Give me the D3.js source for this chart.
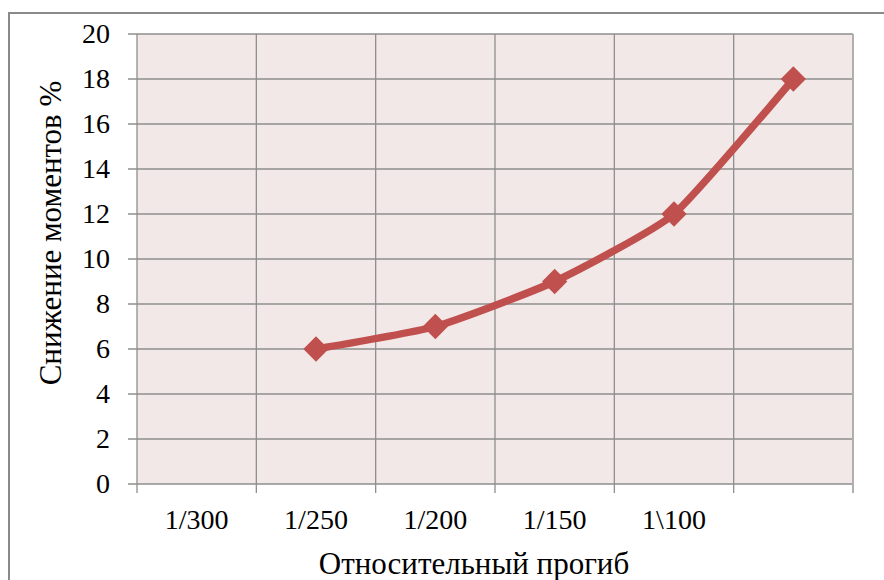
<!DOCTYPE html>
<html><head><meta charset="utf-8">
<script src="https://cdn.jsdelivr.net/npm/d3@7/dist/d3.min.js"></script>
<style>body{margin:0;background:#fff}svg{display:block}</style>
</head><body><svg id="c" width="884" height="580"></svg>
<script>
const categories = ["1/300","1/250","1/200","1/150","1\\100",""];
const values = [null,6,7,9,12,18];
const yTicks = [0,2,4,6,8,10,12,14,16,18,20];
const xTitle = "Относительный прогиб";
const yTitle = "Снижение моментов %";

const FONT = "Liberation Serif";
const svg = d3.select("#c");
const L=137,T=34,R=853,B=484;
svg.append("rect").attr("x",9).attr("y",13).attr("width",900).attr("height",600)
  .attr("fill","#fff").attr("stroke","#8a8a8a").attr("stroke-width",2);
svg.append("rect").attr("x",L).attr("y",T).attr("width",R-L).attr("height",B-T).attr("fill","#F2E8E8");

const x = d3.scaleBand().domain(categories.map((d,i)=>i)).range([L,R]);
const y = d3.scaleLinear().domain([0,20]).range([B,T]);
const grid="#8e8e8e";
svg.append("g").selectAll("line").data(yTicks).join("line")
  .attr("x1",128).attr("x2",R).attr("y1",d=>y(d)).attr("y2",d=>y(d))
  .attr("stroke",grid).attr("stroke-width",1.3);
const bounds = categories.map((d,i)=>x(i)).concat([x(categories.length-1)+x.bandwidth()]);
svg.append("g").selectAll("line").data(bounds).join("line")
  .attr("x1",d=>d).attr("x2",d=>d).attr("y1",T).attr("y2",B+9)
  .attr("stroke",(d,i)=>i===bounds.length-1?"#b0b0b0":grid).attr("stroke-width",(d,i)=>i===bounds.length-1?2:1.3);
svg.append("g").selectAll("text").data(yTicks).join("text")
  .attr("font-family",FONT)
  .attr("x",110).attr("y",d=>y(d)).attr("dy","0.33em").attr("text-anchor","end")
  .attr("font-size",28).text(d=>d);
svg.append("g").selectAll("text").data(categories).join("text")
  .attr("font-family",FONT)
  .attr("x",(d,i)=>x(i)+x.bandwidth()/2).attr("y",520).attr("dy","0.33em").attr("text-anchor","middle")
  .attr("font-size",28).text(d=>d);
svg.append("text").attr("font-family",FONT).attr("x",474).attr("y",574).attr("text-anchor","middle").attr("font-size",31).text(xTitle);
svg.append("text").attr("font-family",FONT).attr("transform","translate(61,233) rotate(-90)").attr("text-anchor","middle").attr("font-size",31).text(yTitle);

const pts = values.map((v,i)=>({i,v})).filter(d=>d.v!=null);
const col="#C0504D";
svg.append("path").datum(pts)
  .attr("d",d3.line().x(d=>x(d.i)+x.bandwidth()/2).y(d=>y(d.v)).curve(d3.curveCardinal.tension(0.5)))
  .attr("fill","none").attr("stroke",col).attr("stroke-width",7.5).attr("stroke-linejoin","round");
svg.append("g").selectAll("path").data(pts).join("path")
  .attr("d",d3.symbol().type(d3.symbolSquare).size(320))
  .attr("transform",d=>`translate(${x(d.i)+x.bandwidth()/2},${y(d.v)}) rotate(45)`)
  .attr("fill",col);
</script></body></html>
